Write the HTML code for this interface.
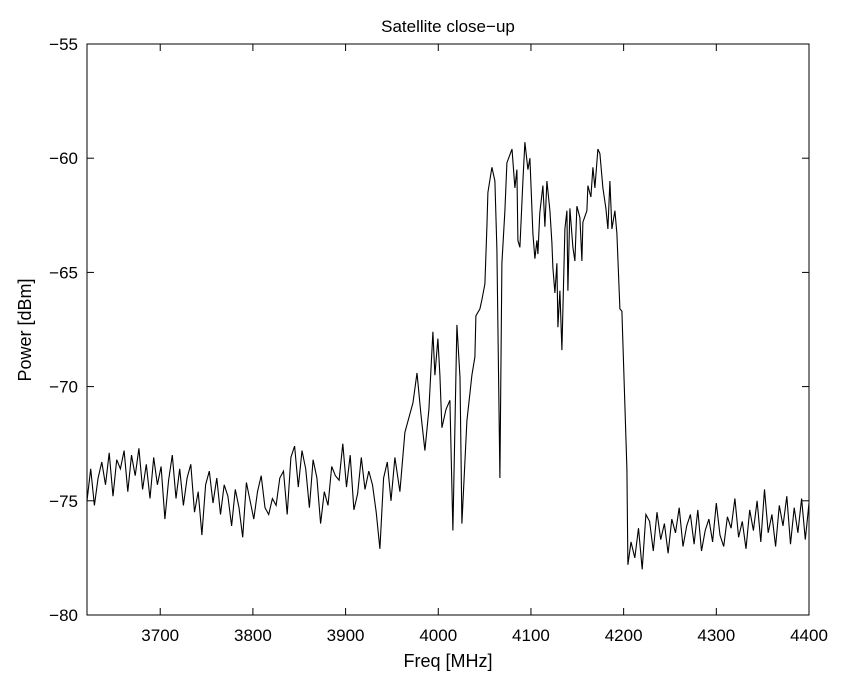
<!DOCTYPE html>
<html><head><meta charset="utf-8"><style>
html,body{margin:0;padding:0;background:#fff;}
svg{display:block;font-family:"Liberation Sans",sans-serif;}
</style></head><body>
<svg id="chart" width="841" height="677" viewBox="0 0 841 677" xmlns="http://www.w3.org/2000/svg">
<rect width="841" height="677" fill="#fff"/>
<text x="448" y="32" font-size="17" text-anchor="middle">Satellite close−up</text>
<text x="448" y="667" font-size="18" text-anchor="middle">Freq [MHz]</text>
<text transform="translate(31,330) rotate(-90)" font-size="18" text-anchor="middle">Power [dBm]</text>
<g id="axes"></g>
<path id="series" fill="none" stroke="#000" stroke-width="1.1"/>
<rect x="87" y="44" width="722" height="571" fill="none" stroke="#000" stroke-width="1"/>
</svg>
<script>
const xTicks = [3700, 3800, 3900, 4000, 4100, 4200, 4300, 4400];
const yTicks = [-55, -60, -65, -70, -75, -80];
const yTickLabels = ["−55", "−60", "−65", "−70", "−75", "−80"];
const lowStart = 3621, lowStep = 4;
const lowValues = [-75.0,-73.6,-75.2,-74.0,-73.3,-74.3,-72.9,-74.8,-73.2,-73.6,-72.8,-74.6,-73.0,-73.9,-72.7,-74.5,-73.4,-74.9,-73.1,-74.3,-73.5,-75.8,-74.1,-73.0,-74.9,-73.6,-75.2,-74.0,-73.4,-75.5,-74.6,-76.5,-74.3,-73.7,-75.1,-74.0,-75.6,-74.3,-74.8,-76.1,-74.5,-75.3,-76.6,-74.2,-75.0,-75.8,-74.6,-73.9,-75.3,-75.6,-74.9,-75.2,-74.0,-73.7,-75.6,-73.1,-72.6,-74.4,-72.8,-73.6,-75.3,-73.2,-74.0,-76.0,-74.6,-75.2,-73.5,-73.9,-74.1,-72.5,-74.4,-73.0,-75.4,-74.7,-73.1,-74.5,-73.7,-74.3,-75.5,-77.1,-74.0,-73.3,-75.0];
const peakFreqs = [3953.2,3958.6,3964.0,3972.7,3977.0,3981.3,3985.6,3989.9,3994.2,3996.4,3999.6,4001.8,4003.9,4008.3,4012.6,4015.8,4020.1,4023.4,4025.5,4030.9,4036.3,4039.5,4040.6,4044.9,4047.1,4050.3,4052.5,4053.6,4057.9,4061.1,4063.3,4066.5,4068.7,4071.9,4074.1,4079.5,4082.7,4084.8,4085.9,4088.1,4091.3,4093.5,4096.7,4098.9,4102.1,4104.3,4106.4,4107.5,4109.6,4112.9,4115.0,4117.2,4120.4,4122.6,4123.7,4125.8,4128.0,4129.1,4131.2,4133.4,4136.6,4138.8,4139.9,4142.0,4145.3,4147.4,4149.6,4152.8,4155.0,4156.0,4160.4,4161.4,4164.7,4166.8,4169.0,4172.2,4174.4,4177.6,4180.9,4183.0,4185.2,4187.3,4190.6,4192.7,4196.0,4198.1,4203.5,4204.6];
const peakValues = [-73.1,-74.6,-72.0,-70.7,-69.4,-71.2,-72.8,-71.0,-67.6,-69.5,-67.9,-69.5,-71.8,-71.0,-70.6,-76.3,-67.3,-69.6,-76.0,-71.5,-69.5,-68.7,-66.9,-66.6,-66.2,-65.5,-63.0,-61.5,-60.4,-61.0,-64.0,-74.0,-64.6,-62.3,-60.2,-59.6,-61.3,-60.5,-63.6,-63.9,-61.0,-59.3,-60.5,-60.0,-63.3,-64.4,-63.6,-64.2,-62.4,-61.2,-63.0,-61.0,-62.3,-63.7,-64.8,-65.9,-64.6,-67.4,-65.8,-68.4,-63.1,-62.3,-65.8,-62.2,-63.9,-64.5,-62.1,-62.6,-64.5,-62.8,-62.3,-61.2,-61.7,-60.4,-61.3,-59.6,-59.8,-61.3,-62.2,-63.1,-61.0,-63.1,-62.3,-63.3,-66.6,-66.7,-73.6,-77.8];
const tailStart = 4208, tailStep = 4;
const tailValues = [-76.8,-77.5,-76.2,-78.0,-75.6,-75.9,-77.2,-75.5,-76.7,-76.0,-77.3,-75.8,-76.4,-75.3,-77.0,-76.1,-75.6,-76.9,-75.4,-77.2,-76.3,-75.8,-76.8,-75.1,-76.5,-77.0,-75.7,-76.2,-74.9,-76.6,-75.9,-77.1,-75.4,-76.3,-75.0,-76.8,-74.5,-76.4,-75.6,-77.0,-75.2,-76.1,-74.8,-76.9,-75.3,-76.4,-74.9,-76.7,-75.1];

const X0 = 87, X1 = 809, Y0 = 44, Y1 = 615;
const fMin = 3621, fMax = 4400, vMin = -80, vMax = -55;
const xs = f => X0 + (f - fMin) / (fMax - fMin) * (X1 - X0);
const ys = v => Y1 - (v - vMin) / (vMax - vMin) * (Y1 - Y0);
const NS = "http://www.w3.org/2000/svg";
const axes = document.getElementById('axes');

xTicks.forEach(t => {
  const x = xs(t);
  [[Y1, Y1 - 7], [Y0, Y0 + 7]].forEach(([a, b]) => {
    const l = document.createElementNS(NS, 'line');
    
    
    l.setAttribute('x1', x); l.setAttribute('x2', x);
    l.setAttribute('y1', a); l.setAttribute('y2', b);
    l.setAttribute('stroke', '#000');
    axes.appendChild(l);
  });
  const tx = document.createElementNS(NS, 'text');
  
  
  tx.setAttribute('x', x); tx.setAttribute('y', 641);
  tx.setAttribute('font-size', '17');
  tx.setAttribute('text-anchor', 'middle');
  tx.textContent = t;
  axes.appendChild(tx);
});
yTicks.forEach((t, i) => {
  const y = ys(t);
  [[X0, X0 + 7], [X1, X1 - 7]].forEach(([a, b]) => {
    const l = document.createElementNS(NS, 'line');
    
    
    l.setAttribute('x1', a); l.setAttribute('x2', b);
    l.setAttribute('y1', y); l.setAttribute('y2', y);
    l.setAttribute('stroke', '#000');
    axes.appendChild(l);
  });
  const tx = document.createElementNS(NS, 'text');
  
  
  tx.setAttribute('x', 78); tx.setAttribute('y', y + 6);
  tx.setAttribute('font-size', '17');
  tx.setAttribute('text-anchor', 'end');
  tx.textContent = yTickLabels[i];
  axes.appendChild(tx);
});

const pts = [];
lowValues.forEach((v, i) => pts.push([lowStart + i * lowStep, v]));
peakValues.forEach((v, i) => pts.push([peakFreqs[i], v]));
tailValues.forEach((v, i) => pts.push([tailStart + i * tailStep, v]));
document.getElementById('series').setAttribute('d',
  pts.map((p, i) => (i ? 'L' : 'M') + xs(p[0]).toFixed(1) + ',' + ys(p[1]).toFixed(1)).join(''));
</script>
</body></html>
